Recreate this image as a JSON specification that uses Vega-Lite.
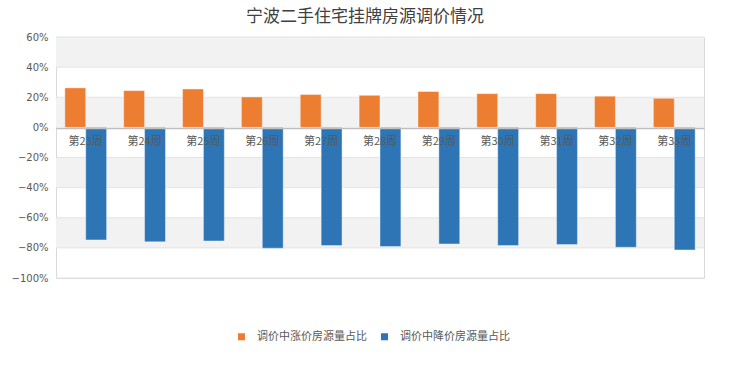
{
  "$schema": "https://vega.github.io/schema/vega-lite/v6.json",
  "width": 648,
  "height": 241,
  "autosize": {"type": "none"},
  "padding": {"left": 56, "top": 37, "right": 36, "bottom": 92},
  "background": "white",
  "title": {
    "text": "宁波二手住宅挂牌房源调价情况",
    "font": "Noto Sans CJK SC",
    "fontSize": 17,
    "fontWeight": "normal",
    "color": "#404040",
    "anchor": "middle",
    "dx": -15,
    "offset": 6
  },
  "config": {
    "font": "Noto Sans CJK SC",
    "view": {"stroke": "#d9d9d9", "strokeWidth": 1},
    "axisY": {"labelOverlap": false}
  },
  "datasets": {
    "bars": [
      {"week": "第23周", "type": "调价中涨价房源量占比", "value": 0.262},
      {"week": "第24周", "type": "调价中涨价房源量占比", "value": 0.244},
      {"week": "第25周", "type": "调价中涨价房源量占比", "value": 0.255},
      {"week": "第26周", "type": "调价中涨价房源量占比", "value": 0.202},
      {"week": "第27周", "type": "调价中涨价房源量占比", "value": 0.218},
      {"week": "第28周", "type": "调价中涨价房源量占比", "value": 0.213},
      {"week": "第29周", "type": "调价中涨价房源量占比", "value": 0.238},
      {"week": "第30周", "type": "调价中涨价房源量占比", "value": 0.224},
      {"week": "第31周", "type": "调价中涨价房源量占比", "value": 0.224},
      {"week": "第32周", "type": "调价中涨价房源量占比", "value": 0.207},
      {"week": "第33周", "type": "调价中涨价房源量占比", "value": 0.193},
      {"week": "第23周", "type": "调价中降价房源量占比", "value": -0.747},
      {"week": "第24周", "type": "调价中降价房源量占比", "value": -0.760},
      {"week": "第25周", "type": "调价中降价房源量占比", "value": -0.754},
      {"week": "第26周", "type": "调价中降价房源量占比", "value": -0.802},
      {"week": "第27周", "type": "调价中降价房源量占比", "value": -0.785},
      {"week": "第28周", "type": "调价中降价房源量占比", "value": -0.791},
      {"week": "第29周", "type": "调价中降价房源量占比", "value": -0.774},
      {"week": "第30周", "type": "调价中降价房源量占比", "value": -0.785},
      {"week": "第31周", "type": "调价中降价房源量占比", "value": -0.778},
      {"week": "第32周", "type": "调价中降价房源量占比", "value": -0.796},
      {"week": "第33周", "type": "调价中降价房源量占比", "value": -0.814}
    ],
    "bands": [
      {"lo": 0.4, "hi": 0.6},
      {"lo": 0.0, "hi": 0.2},
      {"lo": -0.4, "hi": -0.2},
      {"lo": -0.8, "hi": -0.6}
    ],
    "grid": [
      {"v": -1}, {"v": -0.8}, {"v": -0.6}, {"v": -0.4}, {"v": -0.2},
      {"v": 0.2}, {"v": 0.4}, {"v": 0.6}
    ]
  },
  "layer": [
    {
      "data": {"name": "bands"},
      "mark": {"type": "rect", "color": "#f2f2f2"},
      "encoding": {
        "y": {
          "field": "lo",
          "type": "quantitative",
          "scale": {"domain": [-1, 0.6], "nice": false}
        },
        "y2": {"field": "hi"}
      }
    },
    {
      "data": {"name": "grid"},
      "mark": {"type": "rule", "color": "#e4e4e4", "strokeWidth": 1},
      "encoding": {
        "y": {"field": "v", "type": "quantitative"}
      }
    },
    {
      "data": {"name": "bars"},
      "mark": {"type": "bar", "stroke": "#ffffff", "strokeOpacity": 0.4, "strokeWidth": 1},
      "encoding": {
        "x": {
          "field": "week",
          "type": "nominal",
          "sort": null,
          "scale": {"paddingInner": 0.29, "paddingOuter": 0.15},
          "axis": {
            "title": null,
            "offset": -150,
            "zindex": 1,
            "labelAngle": 0,
            "labelFontSize": 11,
            "labelColor": "#595959",
            "labelPadding": 7,
            "ticks": false,
            "domainColor": "#bfbfbf",
            "domainWidth": 1.5,
            "grid": false
          }
        },
        "xOffset": {
          "field": "type",
          "type": "nominal",
          "sort": ["调价中涨价房源量占比", "调价中降价房源量占比"]
        },
        "y": {
          "field": "value",
          "type": "quantitative",
          "axis": {
            "title": null,
            "tickCount": 9,
            "format": ".0%",
            "labelFont": "DejaVu Sans",
            "labelFontSize": 10,
            "labelColor": "#595959",
            "labelPadding": 8,
            "labelOverlap": false,
            "labelBound": false,
            "labelFlush": false,
            "ticks": false,
            "domain": false,
            "grid": false
          }
        },
        "color": {
          "field": "type",
          "type": "nominal",
          "sort": ["调价中涨价房源量占比", "调价中降价房源量占比"],
          "scale": {"range": ["#ED7D31", "#2E75B6"]},
          "legend": {
            "title": null,
            "orient": "none",
            "legendX": 180,
            "legendY": 294,
            "direction": "horizontal",
            "symbolType": "square",
            "symbolSize": 49,
            "symbolStrokeWidth": 0,
            "labelOffset": 10,
            "labelFontSize": 11,
            "labelColor": "#595959",
            "columnPadding": 12
          }
        }
      }
    }
  ]
}
